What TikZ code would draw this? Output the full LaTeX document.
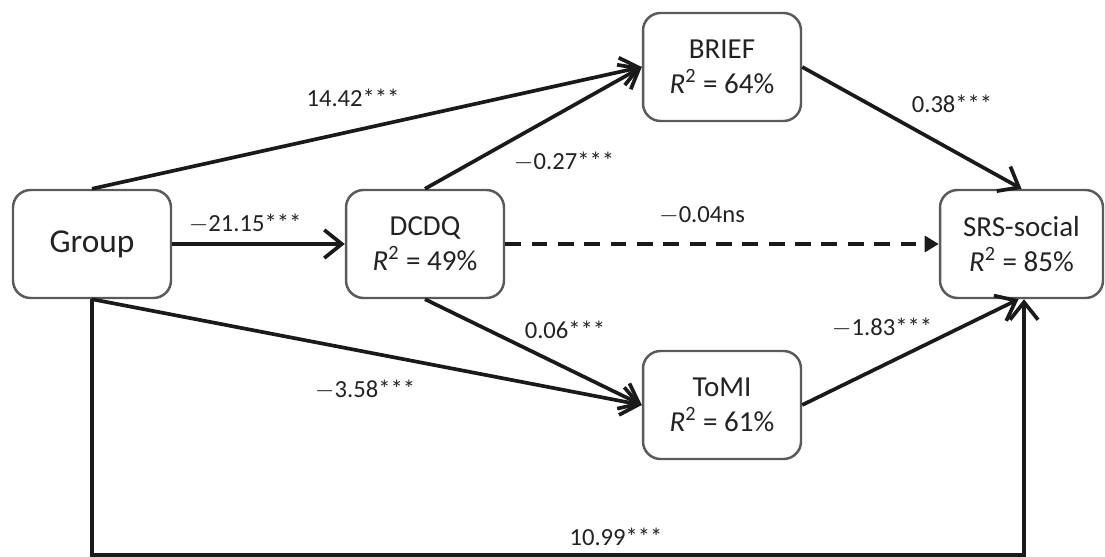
\documentclass[tikz,border=0pt]{standalone}
\usepackage{fontspec}
\setmainfont{Carlito}
\usetikzlibrary{positioning}
\usetikzlibrary{calc}
\usetikzlibrary{arrows.meta}

\definecolor{boxgray}{HTML}{5A5A5A}
\definecolor{ln}{HTML}{1A1A1A}
\definecolor{txt}{HTML}{222222}

\begin{document}
\begin{tikzpicture}[x=0.02cm,y=-0.02cm,
  box/.style={draw=boxgray,line width=1.4pt,rounded corners=0.35cm,minimum width=3.16cm,minimum height=2.16cm,align=center,text=txt,font=\fontsize{16.5}{20}\selectfont},
  lbl/.style={text=txt,font=\fontsize{14}{16}\selectfont},
  arr/.style={draw=ln,line width=2.1pt,-{Straight Barb[length=10pt,width=16pt]}},
  dsh/.style={draw=ln,line width=2.1pt,dash pattern=on 9pt off 6pt,-{Triangle[length=8pt,width=9pt]}}]
\useasboundingbox (0,0) rectangle (1105,557);

\node[box,font=\fontsize{19}{20}\selectfont](group) at (92,244){Group};
\node[box](dcdq) at (425,244){DCDQ\\{\itshape R}\textsuperscript{2} = 49\%};
\node[box](brief) at (722,67){BRIEF\\{\itshape R}\textsuperscript{2} = 64\%};
\node[box](tomi) at (722,405){ToMI\\{\itshape R}\textsuperscript{2} = 61\%};
\node[box,minimum width=3.26cm](srs) at (1021.5,244){SRS-social\\{\itshape R}\textsuperscript{2} = 85\%};

\node[lbl](lgb) at (353,98){14.42***};
\node[lbl](lgd) at (245,224){$-$21.15***};
\node[lbl](ldb) at (564,162){$-$0.27***};
\node[lbl](lds) at (702,216){$-$0.04ns};
\node[lbl](lbs) at (952,104){0.38***};
\node[lbl](ldt) at (565,330){0.06***};
\node[lbl](lgt) at (365,390){$-$3.58***};
\node[lbl](lts) at (882,328){$-$1.83***};
\node[lbl](lgs) at (616,537){10.99***};

\coordinate (gbot) at (92,555);
\coordinate (sbot) at (1024,555);

\path
(group) edge[arr] (dcdq)
(group.north) edge[arr] (brief.west)
(dcdq.north) edge[arr] (brief.west)
(brief.east) edge[arr] (srs.north)
(dcdq) edge[dsh] (srs)
(group.south) edge[arr] (tomi.west)
(dcdq.south) edge[arr] (tomi.west)
(tomi.east) edge[arr] ([xshift=-0.06cm]srs.south);

\draw[arr] (group.south) -- (gbot) -- (sbot) -- (sbot |- srs.south);
\end{tikzpicture}
\end{document}
